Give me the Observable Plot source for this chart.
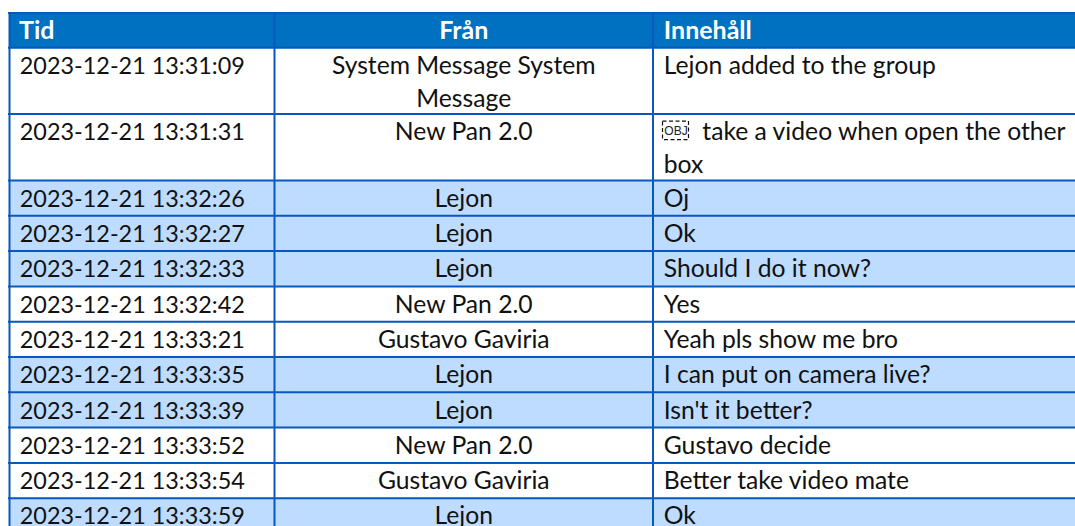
<!DOCTYPE html>
<html><head><meta charset="utf-8">
<script src="https://cdn.jsdelivr.net/npm/d3@7"></script>
<script src="https://cdn.jsdelivr.net/npm/@observablehq/plot@0.6"></script>
<style>html,body{margin:0;padding:0;background:#fff}svg{display:block}</style>
</head><body><div id="c"></div>
<script>
const headers = ["Tid", "Från", "Innehåll"];
const times = ["2023-12-21 13:31:09","2023-12-21 13:31:31","2023-12-21 13:32:26","2023-12-21 13:32:27","2023-12-21 13:32:33","2023-12-21 13:32:42","2023-12-21 13:33:21","2023-12-21 13:33:35","2023-12-21 13:33:39","2023-12-21 13:33:52","2023-12-21 13:33:54","2023-12-21 13:33:59"];
const senders = [["System Message System","Message"],["New Pan 2.0"],["Lejon"],["Lejon"],["Lejon"],["New Pan 2.0"],["Gustavo Gaviria"],["Lejon"],["Lejon"],["New Pan 2.0"],["Gustavo Gaviria"],["Lejon"]];
const contents = [["Lejon added to the group"],["take a video when open the other","box"],["Oj"],["Ok"],["Should I do it now?"],["Yes"],["Yeah pls show me bro"],["I can put on camera live?"],["Isn't it better?"],["Gustavo decide"],["Better take video mate"],["Ok"]];
const shaded = [false,false,true,true,true,false,false,true,true,false,false,true];
const lineCounts = [2,2,1,1,1,1,1,1,1,1,1,1];
const iconRowIndex = 1;

const W = 1075, H = 526;
const colEdges = [9, 274, 652.5, W];
const headerTop = 12.5, headerH = 34.7, oneLine = 35.3, twoLine = 66.4;
const BORDER = "#0759bd", HEAD = "#0070c0", LIGHT = "#bddcff", INK = "#111";
const FONT = "Lato, Carlito, sans-serif";
const SIZE = 24.7, TIME_SIZE = 23.4, HEAD_SIZE = 25;
const baseline = 26.2, lineStep = 32.7;

let y = headerTop + headerH;
const rows = times.map((t, i) => {
  const h = lineCounts[i] === 2 ? twoLine : oneLine;
  const r = {time: t, y1: y, y2: Math.min(y + h, H), shaded: shaded[i]};
  y += h;
  return r;
});
const bottom = H;
const horiz = [headerTop, headerTop + headerH, ...rows.slice(0, -1).map(r => r.y2)];
const midCol = (colEdges[1] + colEdges[2]) / 2;
const leftTime = colEdges[0] + 10.3, leftContent = colEdges[2] + 10.8, iconGap = 38.5;
const toBase = size => 0.32 * size; // Plot's middle line anchor puts the baseline .32em under y

const senderLines = senders.flatMap((ls, i) => ls.map((text, j) => ({text, y: rows[i].y1 + baseline + j * lineStep})));
const contentLines = contents.flatMap((ls, i) => ls.map((text, j) => ({
  text, y: rows[i].y1 + baseline + j * lineStep,
  x: leftContent + (i === iconRowIndex && j === 0 ? iconGap : 0)
})));
const iconRow = rows[iconRowIndex];

const chart = Plot.plot({
  width: W, height: H, margin: 0,
  x: {type: "identity"}, y: {type: "identity"},
  style: {fontFamily: FONT, background: "transparent"},
  marks: [
    Plot.rect(rows.filter(r => r.shaded), {x1: colEdges[0], x2: W, y1: "y1", y2: "y2", fill: LIGHT}),
    Plot.rect([0], {x1: colEdges[0], x2: W, y1: headerTop, y2: headerTop + headerH, fill: HEAD}),
    Plot.ruleY(horiz, {x1: colEdges[0] - 1, x2: W, y: d => d, stroke: BORDER, strokeWidth: 2}),
    Plot.ruleX(colEdges.slice(0, -1), {y1: headerTop, y2: bottom, x: d => d, stroke: BORDER, strokeWidth: 2}),
    Plot.text([headers[0]], {x: () => colEdges[0] + 9.5, y: () => headerTop + 26 - toBase(HEAD_SIZE), text: d => d, textAnchor: "start", fill: "#fff", fontWeight: 700, fontSize: HEAD_SIZE}),
    Plot.text([headers[1]], {x: () => midCol, y: () => headerTop + 26 - toBase(HEAD_SIZE), text: d => d, textAnchor: "middle", fill: "#fff", fontWeight: 700, fontSize: HEAD_SIZE}),
    Plot.text([headers[2]], {x: () => leftContent, y: () => headerTop + 26 - toBase(HEAD_SIZE), text: d => d, textAnchor: "start", fill: "#fff", fontWeight: 700, fontSize: HEAD_SIZE}),
    Plot.text(rows, {x: () => leftTime, y: d => d.y1 + baseline - toBase(TIME_SIZE), text: "time", textAnchor: "start", fill: INK, fontSize: TIME_SIZE}),
    Plot.text(senderLines, {x: () => midCol, y: d => d.y - toBase(SIZE), text: "text", textAnchor: "middle", fill: INK, fontSize: SIZE}),
    Plot.text(contentLines, {x: "x", y: d => d.y - toBase(SIZE), text: "text", textAnchor: "start", fill: INK, fontSize: SIZE}),
    Plot.rect([iconRow], {x1: () => colEdges[2] + 10, x2: () => colEdges[2] + 36, y1: d => d.y1 + 7.5, y2: d => d.y1 + 26, fill: "none", stroke: "#111", strokeWidth: 1.2, strokeDasharray: "4,2.5"}),
    Plot.text([iconRow], {x: () => colEdges[2] + 23, y: d => d.y1 + 17, text: () => "OBJ", textAnchor: "middle", fill: "#222", fontSize: 12, fontFamily: "Liberation Sans, sans-serif"})
  ]
});
document.getElementById("c").appendChild(chart);
</script></body></html>
